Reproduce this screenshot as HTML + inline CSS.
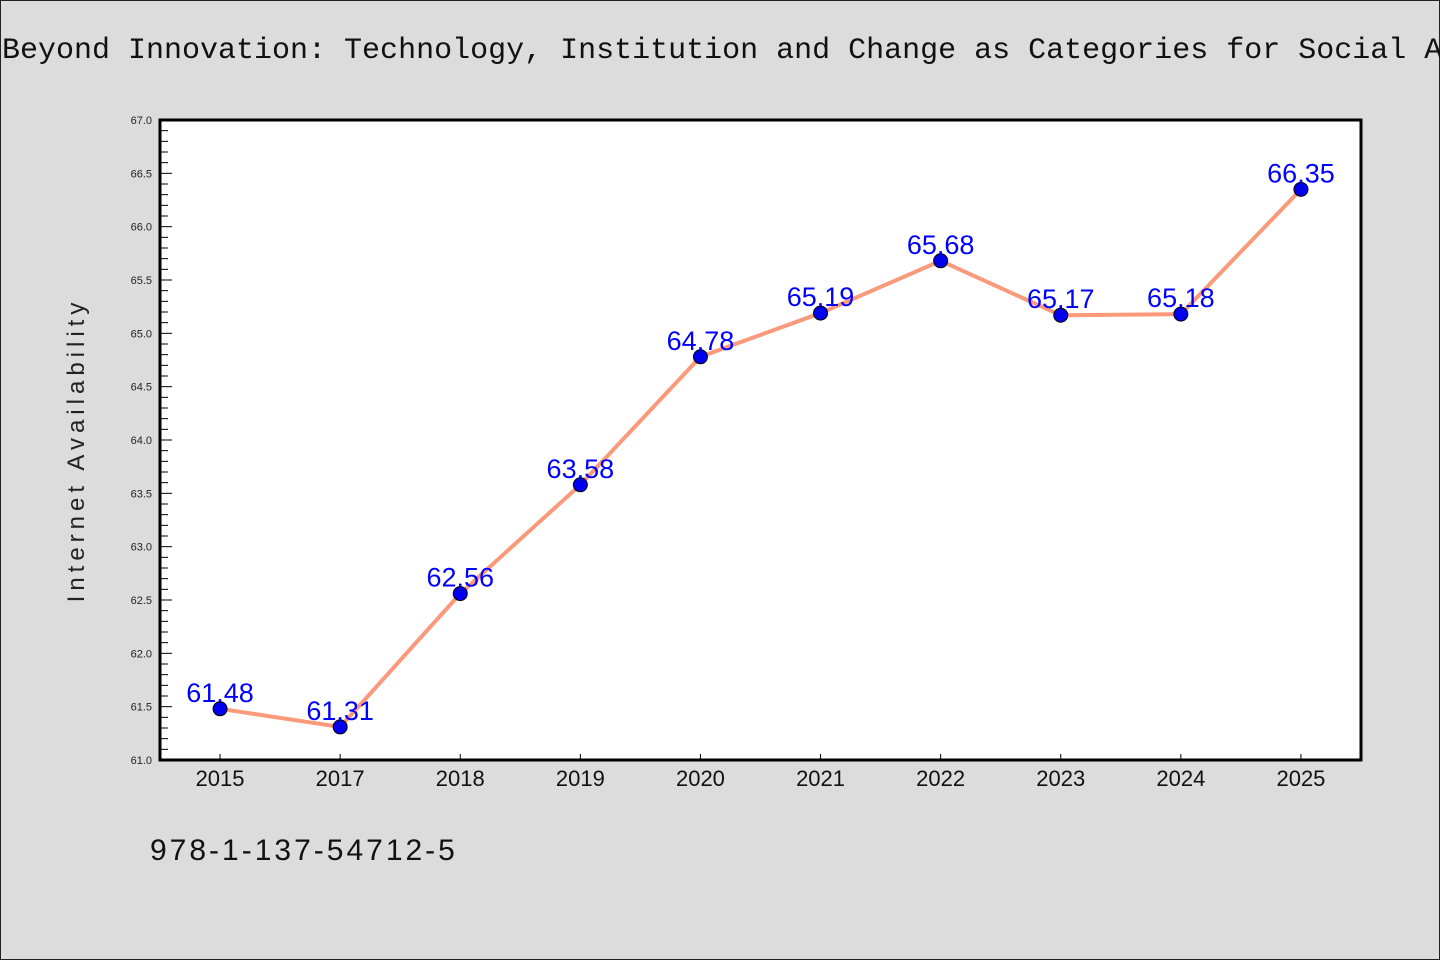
<!DOCTYPE html>
<html><head><meta charset="utf-8"><style>
html,body{margin:0;padding:0;}
body{width:1440px;height:960px;background:#dcdcdc;overflow:hidden;position:relative;font-family:"WenQuanYi Zen Hei","Liberation Sans",sans-serif;}
#frame{position:absolute;left:0;top:0;width:1438px;height:958px;border:1px solid #222;}
#titlewrap{position:absolute;left:0;top:30px;width:1440px;height:50px;overflow:hidden;}
#title{position:absolute;left:2px;top:4px;white-space:nowrap;font-family:"WenQuanYi Zen Hei Mono","WenQuanYi Zen Hei","Liberation Mono",monospace;font-size:30px;color:#111;}
#isbn{position:absolute;left:150px;top:834px;font-size:30px;color:#111;letter-spacing:3px;}
</style></head><body>
<div id="frame"></div>
<div id="titlewrap"><div id="title">Beyond Innovation: Technology, Institution and Change as Categories for Social Analysis</div></div>
<svg id="chart" width="1440" height="960" style="position:absolute;left:0;top:0"></svg>
<div id="isbn">978-1-137-54712-5</div>
<script>
const categories=["2015","2017","2018","2019","2020","2021","2022","2023","2024","2025"];
const values=[61.48,61.31,62.56,63.58,64.78,65.19,65.68,65.17,65.18,66.35];
const yTicks=["61.0","61.5","62.0","62.5","63.0","63.5","64.0","64.5","65.0","65.5","66.0","66.5","67.0"];
const L=160,R=1361,T=120,B=760,yMin=61,yMax=67;
const NS="http://www.w3.org/2000/svg";
const svg=document.getElementById('chart');
function x(i){return L+(R-L)/categories.length*(i+0.5);}
function y(v){return B-(v-yMin)/(yMax-yMin)*(B-T);}
function mk(t,a){const e=document.createElementNS(NS,t);for(const k in a)e.setAttribute(k,a[k]);svg.appendChild(e);return e;}
const bg=mk('rect',{x:L,y:T,width:R-L,height:B-T,fill:'#fff'});


for(let k=0;k<=60;k++){const v=yMin+k*0.1;const yy=y(v);const major=k%5===0;
 const t=mk('line',{x1:L,x2:L+(major?12:8),y1:yy,y2:yy,stroke:'#000','stroke-width':1});
 
 }
yTicks.forEach(s=>{const tx=mk('text',{x:L-8,y:y(parseFloat(s))+4,'text-anchor':'end','font-size':11,fill:'#222'});tx.textContent=s;
 
 });
categories.forEach((c,i)=>{const t=mk('line',{x1:x(i),x2:x(i),y1:B,y2:B-6,stroke:'#000','stroke-width':1});
 
 
 const tx=mk('text',{x:x(i),y:B+26,'text-anchor':'middle','font-size':22,fill:'#111'});tx.textContent=c;
 
 });
const fr=mk('rect',{x:L,y:T,width:R-L,height:B-T,fill:'none',stroke:'#000','stroke-width':3});


const yl=mk('text',{x:0,y:0,transform:'translate(84,450) rotate(-90)','text-anchor':'middle','font-size':24,fill:'#222','letter-spacing':'5'});
yl.textContent='Internet Availability';


const ln=mk('polyline',{points:values.map((v,i)=>x(i)+','+y(v)).join(' '),fill:'none',stroke:'#fa9a7a','stroke-width':4,'stroke-linejoin':'round'});


values.forEach((v,i)=>{const c=mk('circle',{cx:x(i),cy:y(v),r:7,fill:'#0000ee',stroke:'#000','stroke-width':1});
 
 
 const tx=mk('text',{x:x(i),y:y(v)-7,'text-anchor':'middle','font-size':27,fill:'#0000ff'});tx.textContent=v.toFixed(2);
 
 });
</script>
</body></html>
